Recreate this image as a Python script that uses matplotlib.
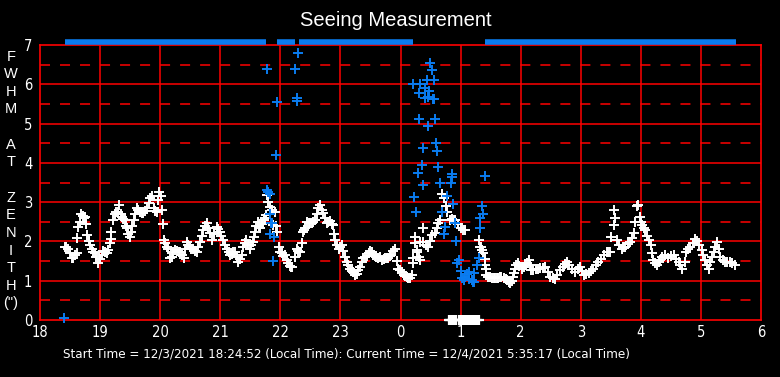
import numpy as np
import matplotlib
matplotlib.use("Agg")
from matplotlib import pyplot as plt

# seeing data, hours since midnight of 12/3 (values > 24 are after midnight)
white_t = [18.41, 18.44, 18.47, 18.50, 18.53, 18.55, 18.58, 18.61, 18.62, 18.64, 18.67, 18.69, 18.71, 18.73,
           18.75, 18.77, 18.79, 18.82, 18.84, 18.86, 18.89, 18.92, 18.94, 18.97, 19.00, 19.03, 19.05, 19.08,
           19.11, 19.14, 19.16, 19.18, 19.19, 19.22, 19.25, 19.27, 19.30, 19.32, 19.34, 19.36, 19.38, 19.41,
           19.43, 19.45, 19.47, 19.49, 19.51, 19.53, 19.56, 19.58, 19.61, 19.63, 19.66, 19.69, 19.72, 19.75,
           19.78, 19.81, 19.83, 19.86, 19.89, 19.92, 19.94, 19.96, 19.98, 20.01, 20.03, 20.04, 20.06, 20.08,
           20.11, 20.13, 20.16, 20.19, 20.22, 20.25, 20.28, 20.31, 20.33, 20.36, 20.39, 20.42, 20.44, 20.47,
           20.50, 20.52, 20.55, 20.58, 20.61, 20.63, 20.66, 20.69, 20.72, 20.75, 20.78, 20.80, 20.83, 20.87,
           20.90, 20.94, 20.97, 21.00, 21.02, 21.05, 21.08, 21.11, 21.14, 21.16, 21.19, 21.22, 21.25, 21.28,
           21.30, 21.33, 21.36, 21.38, 21.41, 21.43, 21.46, 21.50, 21.52, 21.54, 21.56, 21.58, 21.60, 21.62,
           21.64, 21.66, 21.69, 21.72, 21.74, 21.76, 21.78, 21.80, 21.83, 21.86, 21.88, 21.91, 21.93, 21.94,
           21.97, 22.00, 22.02, 22.05, 22.08, 22.11, 22.13, 22.16, 22.18, 22.20, 22.24, 22.27, 22.30, 22.33,
           22.36, 22.37, 22.39, 22.41, 22.44, 22.47, 22.49, 22.52, 22.55, 22.58, 22.61, 22.63, 22.66, 22.69,
           22.71, 22.74, 22.77, 22.80, 22.83, 22.86, 22.88, 22.90, 22.91, 22.94, 22.97, 23.00, 23.02, 23.05,
           23.08, 23.11, 23.13, 23.16, 23.19, 23.21, 23.24, 23.27, 23.30, 23.33, 23.36, 23.38, 23.41, 23.45,
           23.48, 23.50, 23.52, 23.55, 23.58, 23.60, 23.63, 23.66, 23.69, 23.72, 23.75, 23.77, 23.80, 23.83,
           23.85, 23.88, 23.91, 23.94, 23.96, 23.99, 24.02, 24.05, 24.08, 24.10, 24.13, 24.16, 24.19, 24.20,
           24.21, 24.24, 24.24, 24.27, 24.27, 24.30, 24.33, 24.32, 24.38, 24.38, 24.42, 24.46, 24.49, 24.52,
           24.57, 24.60, 24.63, 24.66, 24.69, 24.72, 24.75, 24.77, 24.82, 24.86, 24.89, 24.91, 24.95, 25.00,
           25.04, 25.07, 25.30, 25.32, 25.34, 25.36, 25.38, 25.40, 25.41, 25.43, 25.43, 25.46, 25.49, 25.52,
           25.55, 25.57, 25.60, 25.63, 25.66, 25.68, 25.72, 25.75, 25.77, 25.80, 25.82, 25.85, 25.87, 25.89,
           25.91, 25.93, 25.95, 25.98, 26.02, 26.05, 26.08, 26.10, 26.14, 26.16, 26.18, 26.21, 26.25, 26.29,
           26.33, 26.37, 26.41, 26.45, 26.49, 26.53, 26.57, 26.61, 26.66, 26.70, 26.74, 26.77, 26.81, 26.85,
           26.90, 26.95, 26.99, 27.02, 27.05, 27.09, 27.13, 27.17, 27.21, 27.25, 27.29, 27.33, 27.38, 27.43,
           27.46, 27.49, 27.51, 27.55, 27.56, 27.57, 27.60, 27.64, 27.68, 27.71, 27.74, 27.78, 27.82, 27.85,
           27.88, 27.91, 27.93, 27.95, 27.98, 28.00, 28.02, 28.05, 28.07, 28.10, 28.13, 28.17, 28.18, 28.21,
           28.24, 28.27, 28.30, 28.32, 28.36, 28.41, 28.46, 28.50, 28.55, 28.59, 28.63, 28.66, 28.69, 28.73,
           28.76, 28.79, 28.82, 28.86, 28.90, 28.93, 28.96, 29.01, 29.04, 29.07, 29.10, 29.13, 29.15, 29.18,
           29.21, 29.24, 29.27, 29.30, 29.32, 29.36, 29.40, 29.44, 29.48, 29.52, 29.57]
white_v = [1.87, 1.87, 1.80, 1.70, 1.57, 1.58, 1.65, 1.70, 2.08, 2.37, 2.50, 2.69, 2.65, 2.60,
           2.63, 2.44, 2.16, 2.02, 1.90, 1.82, 1.74, 1.70, 1.61, 1.46, 1.55, 1.65, 1.76, 1.74,
           1.70, 1.78, 1.95, 2.05, 2.25, 2.54, 2.71, 2.74, 2.76, 2.93, 2.70, 2.63, 2.58, 2.54,
           2.40, 2.33, 2.20, 2.12, 2.25, 2.40, 2.54, 2.70, 2.84, 2.80, 2.76, 2.72, 2.73, 2.78,
           2.84, 2.98, 3.10, 3.16, 2.84, 2.78, 2.76, 3.05, 3.26, 3.16, 2.80, 2.44, 2.04, 1.95,
           1.87, 1.80, 1.57, 1.60, 1.72, 1.78, 1.76, 1.72, 1.74, 1.65, 1.57, 1.80, 1.99, 1.92,
           1.85, 1.82, 1.80, 1.76, 1.74, 1.85, 1.99, 2.15, 2.29, 2.40, 2.48, 2.35, 2.21, 2.04,
           2.20, 2.37, 2.32, 2.25, 2.15, 2.04, 1.92, 1.82, 1.72, 1.65, 1.68, 1.72, 1.74, 1.60,
           1.48, 1.55, 1.65, 1.87, 1.95, 2.04, 1.90, 1.82, 1.90, 1.99, 2.12, 2.25, 2.40, 2.50,
           2.40, 2.33, 2.45, 2.54, 2.60, 2.67, 3.18, 3.01, 2.88, 2.80, 2.42, 2.76, 2.40, 2.25,
           1.87, 1.72, 1.70, 1.62, 1.65, 1.53, 1.44, 1.38, 1.34, 1.36, 1.60, 1.82, 1.76, 1.74,
           1.95, 2.25, 2.30, 2.33, 2.50, 2.48, 2.46, 2.46, 2.50, 2.54, 2.70, 2.84, 2.93, 2.80,
           2.73, 2.60, 2.48, 2.50, 2.53, 2.45, 2.42, 2.20, 2.04, 1.92, 1.82, 1.87, 1.91, 1.75,
           1.61, 1.48, 1.40, 1.31, 1.25, 1.23, 1.15, 1.17, 1.28, 1.36, 1.48, 1.57, 1.61, 1.63,
           1.70, 1.76, 1.74, 1.66, 1.63, 1.61, 1.58, 1.61, 1.54, 1.56, 1.58, 1.57, 1.59, 1.62,
           1.65, 1.75, 1.82, 1.50, 1.31, 1.27, 1.23, 1.15, 1.12, 1.10, 1.06, 1.06, 1.15, 1.44,
           1.57, 2.12, 1.95, 1.74, 1.78, 1.60, 1.53, 1.99, 2.33, 1.99, 1.90, 1.87, 2.00, 2.16,
           2.21, 2.35, 2.46, 2.54, 3.22, 3.10, 2.90, 2.76, 2.54, 2.56, 2.54, 2.54, 2.45, 2.35,
           2.29, 2.29, 2.04, 1.87, 1.87, 1.78, 1.70, 1.55, 1.40, 1.31, 1.15, 1.10, 1.10, 1.06,
           1.06, 1.06, 1.06, 1.08, 1.10, 1.10, 1.06, 1.04, 1.02, 0.98, 0.93, 1.00, 1.10, 1.20,
           1.31, 1.40, 1.46, 1.38, 1.31, 1.36, 1.40, 1.44, 1.53, 1.40, 1.27, 1.28, 1.30, 1.31,
           1.32, 1.33, 1.34, 1.22, 1.10, 1.07, 1.04, 1.15, 1.27, 1.35, 1.42, 1.48, 1.40, 1.31,
           1.23, 1.30, 1.36, 1.25, 1.15, 1.17, 1.19, 1.25, 1.31, 1.40, 1.48, 1.55, 1.65, 1.74,
           1.74, 1.74, 2.12, 2.42, 2.80, 2.59, 2.04, 1.92, 1.82, 1.85, 1.87, 1.93, 1.99, 2.10,
           2.21, 2.50, 2.90, 2.93, 2.61, 2.50, 2.42, 2.35, 2.29, 2.15, 2.04, 1.91, 1.70, 1.53,
           1.45, 1.40, 1.48, 1.53, 1.60, 1.65, 1.59, 1.62, 1.65, 1.56, 1.48, 1.40, 1.31, 1.48,
           1.74, 1.80, 1.87, 1.95, 2.05, 2.00, 1.91, 1.78, 1.65, 1.53, 1.40, 1.31, 1.48, 1.60,
           1.74, 1.85, 1.99, 1.80, 1.61, 1.54, 1.48, 1.48, 1.48, 1.44, 1.40]

# zero readings shortly after 1 am
zero_t = [24.80, 24.83, 24.85, 24.88, 24.90, 24.93, 24.97, 25.00, 25.03, 25.06, 25.08, 25.10,
          25.12, 25.15, 25.18, 25.21, 25.24, 25.27, 25.31]
zero_v = [0.0] * len(zero_t)

blue_t = [18.40, 21.77, 21.78, 21.80, 21.82, 21.83, 21.84, 21.86, 21.83, 21.89, 21.87, 21.93, 21.95,
          22.25, 22.27, 22.28, 22.30,
          24.49, 24.52, 24.44, 24.55, 24.21, 24.32, 24.41, 24.48, 24.30, 24.40, 24.46, 24.54, 24.56,
          24.31, 24.58, 24.45, 24.59, 24.38, 24.61, 24.35, 24.63, 24.29, 24.85, 24.86, 25.40, 24.37,
          24.65, 24.84, 24.23, 24.77, 24.88, 25.35, 25.38, 24.26, 24.69, 25.33, 24.91, 24.74, 25.32,
          24.73, 24.93, 24.97, 24.94, 25.30, 25.27, 25.00, 25.14, 25.23, 25.03, 25.08, 25.11, 25.14,
          25.20, 25.05, 25.19, 25.22]
blue_v = [0.04, 6.38, 3.32, 3.25, 3.22, 2.71, 2.48, 2.46, 2.19, 2.12, 1.49, 4.19, 5.54,
          6.40, 5.64, 5.57, 6.79,
          6.53, 6.36, 6.11, 6.11, 6.00, 6.00, 5.90, 5.84, 5.77, 5.64, 5.67, 5.62, 5.62,
          5.11, 5.11, 4.95, 4.50, 4.37, 4.29, 3.94, 3.90, 3.75, 3.72, 3.65, 3.66, 3.43,
          3.48, 3.48, 3.12, 3.16, 2.95, 2.90, 2.71, 2.76, 2.76, 2.59, 2.46, 2.36, 2.33,
          2.19, 2.02, 1.54, 1.44, 1.57, 1.40, 1.25, 1.23, 1.19, 1.06, 1.10, 1.17, 1.04,
          0.97, 1.02, 1.02, 0.97]

# periods flagged along the top edge
flag_start = [18.42, 21.95, 22.31, 25.41]
flag_end = [21.76, 22.24, 24.20, 29.58]

hour_ticks = list(range(18, 31))
hour_labels = [str(h % 24) for h in hour_ticks]

narrow = dict(family='DejaVu Sans', stretch='condensed')
regular = ['Liberation Sans', 'DejaVu Sans']
RED = '#ff0000'
BLUE = '#0a7cf0'

fig = plt.figure(figsize=(7.8, 3.77), dpi=100, facecolor='black')
ax = fig.add_axes([40 / 780, 57 / 377, 721 / 780, 275 / 377], facecolor='black')
ax.set_xlim(18, 30)
ax.set_ylim(0, 7)

# grid: solid on whole units, dashed on half units
for h in hour_ticks[1:-1]:
    ax.axvline(h, color=RED, lw=1.1, zorder=1)
for y in range(1, 7):
    ax.axhline(y, color=RED, lw=1.1, zorder=1)
for y in np.arange(0.5, 7, 1.0):
    ax.axhline(y, color=RED, lw=1.1, dashes=(6.55, 6.55), zorder=1)

for s in ax.spines.values():
    s.set_color(RED)
    s.set_linewidth(1.2)

ax.plot(white_t, white_v, '+', color='white', ms=6.5, mew=1.4, zorder=3)
ax.plot(zero_t, zero_v, '+', color='white', ms=6.5, mew=1.6, zorder=3, clip_on=False)
ax.plot(blue_t, blue_v, '+', color=BLUE, ms=6.5, mew=1.4, zorder=4, clip_on=False)
for a, b in zip(flag_start, flag_end):
    ax.plot([a, b], [7.07, 7.07], color=BLUE, lw=4, solid_capstyle='butt', clip_on=False, zorder=5)

ax.set_xticks(hour_ticks)
ax.set_xticklabels(hour_labels)
ax.set_yticks(range(0, 8))
ax.tick_params(length=0, colors='white', labelsize=10.5)
ax.tick_params(axis='x', pad=3.5)
ax.tick_params(axis='y', pad=5.5)
for lab in ax.get_xticklabels() + ax.get_yticklabels():
    lab.set_family(narrow['family'])
    lab.set_stretch(narrow['stretch'])

fig.text(0.507, 0.945, 'Seeing Measurement', color='white', fontsize=14.5,
         family=regular, ha='center', va='center')
ylab = '\n'.join(['F', 'W', 'H', 'M', '', 'A', 'T', '', 'Z', 'E', 'N', 'I', 'T', 'H', '(")'])
fig.text(11 / 780, 1 - 180 / 377, ylab, color='white', fontsize=10.5, family=regular,
         ha='center', va='center', linespacing=1.33)
fig.text(63 / 780, 1 - 354 / 377,
         'Start Time = 12/3/2021 18:24:52 (Local Time): Current Time = 12/4/2021 5:35:17 (Local Time)',
         color='white', fontsize=9.5, fontfamily=narrow['family'], fontstretch=narrow['stretch'],
         ha='left', va='center')

plt.savefig("out.png", dpi=100, facecolor='black')
